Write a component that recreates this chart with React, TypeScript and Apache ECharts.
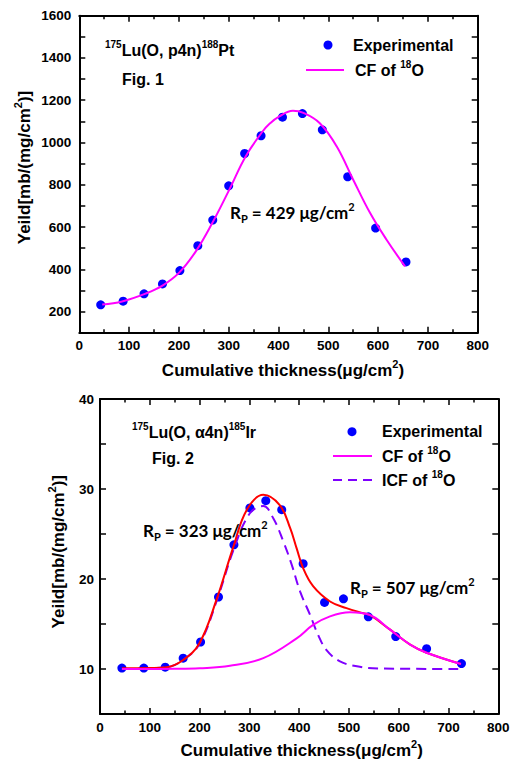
import React, { useEffect, useRef } from "react";
import * as echarts from "echarts";

// ---------- Fig. 1 : 175Lu(O, p4n)188Pt ----------
const fig1Thickness = [43, 88, 130, 167, 202, 238, 268, 300, 332, 365, 408, 448, 488, 539, 595, 656];
const fig1Yield = [232, 249, 284, 331, 394, 512, 633, 795, 948, 1032, 1120, 1137, 1060, 838, 595, 435];
const fig1FitX = [46, 86, 133, 167, 200, 234, 267, 301, 334, 368, 383, 401, 429, 450, 483, 517, 550, 584, 617, 654];
const fig1FitY = [233, 248, 285, 323, 383, 485, 619, 776, 934, 1052, 1091, 1123, 1150, 1140, 1091, 981, 824, 666, 540, 414];

// ---------- Fig. 2 : 175Lu(O, a4n)185Ir ----------
const fig2Thickness = [44, 88, 131, 167, 202, 238, 269, 301, 333, 365, 408, 451, 489, 539, 594, 656, 726];
const fig2Yield = [10.1, 10.1, 10.2, 11.2, 13.0, 18.0, 23.8, 27.9, 28.7, 27.7, 21.7, 17.4, 17.8, 15.8, 13.6, 12.25, 10.6];
const fig2CfX = [44, 150, 200, 261, 328, 395, 428, 462, 502, 542, 582, 623, 656, 725];
const fig2CfY = [10.0, 10.02, 10.08, 10.35, 11.2, 13.4, 14.9, 15.85, 16.3, 16.0, 14.4, 12.7, 11.8, 10.55];
const fig2IcfX = [44, 134, 167, 200, 234, 268, 301, 328, 348, 368, 385, 402, 422, 438, 455, 482, 516, 560, 726];
const fig2IcfY = [10.0, 10.2, 11.0, 12.8, 17.5, 23.2, 27.3, 28.1, 26.75, 24.2, 21.6, 18.6, 16.0, 13.8, 12.1, 10.85, 10.3, 10.05, 10.0];
const fig2SumX = [44, 100, 134, 167, 200, 234, 268, 295, 328, 361, 382, 395, 408, 428, 462, 495, 529, 542, 582, 623, 656, 725];
const fig2SumY = [10.07, 10.1, 10.2, 11.0, 12.9, 17.7, 23.6, 27.7, 29.35, 28.2, 25.65, 23.4, 21.2, 19.2, 17.5, 16.77, 16.2, 16.0, 14.4, 12.7, 11.8, 10.55];

const xTicks = { min: 0, max: 800, interval: 100 };
const y1Ticks = { min: 100, max: 1600, interval: 100, labelStep: 200 };
const y2Ticks = { min: 5, max: 40, interval: 5, labelStep: 10 };

const FONT = '"Liberation Sans", Arial, sans-serif';
const RP_FONT = 'Lato, "Open Sans", sans-serif';
const BLUE = "#0000ff";
const MAGENTA = "#ff00ff";
const RED = "#ff0000";
const PURPLE = "#7f00ff";

const zip = (xs: number[], ys: number[]) => xs.map((x, i) => [x, ys[i]]);

const G1 = { left: 79.3, top: 15.7, width: 398.4, height: 317 };
const G2 = { left: 100, top: 399, width: 398.3, height: 315 };

function xAxisPair(gridIndex: number) {
  const common = {
    gridIndex,
    type: "value",
    min: xTicks.min,
    max: xTicks.max,
    interval: xTicks.interval,
    splitLine: { show: false },
    axisLine: { show: true, onZero: false, lineStyle: { color: "#000", width: 2 } },
    axisTick: { show: true, inside: true, length: 6, lineStyle: { color: "#000", width: 1.5 } },
    minorTick: { show: true, splitNumber: 2, length: 3.5, lineStyle: { color: "#000", width: 1.5 } },
    minorSplitLine: { show: false },
  };
  return [
    {
      ...common,
      position: "bottom",
      axisLabel: {
        show: true,
        margin: 6,
        color: "#000",
        fontFamily: FONT,
        fontWeight: "bold",
        fontSize: 13.5,
        showMinLabel: true,
        showMaxLabel: true,
      },
    },
    { ...common, position: "top", axisLabel: { show: false } },
  ];
}

function yAxisPair(gridIndex: number, t: { min: number; max: number; interval: number; labelStep: number }, margin: number) {
  const common = {
    gridIndex,
    type: "value",
    min: t.min,
    max: t.max,
    interval: t.interval,
    splitLine: { show: false },
    axisLine: { show: true, onZero: false, lineStyle: { color: "#000", width: 2 } },
    axisTick: { show: true, inside: true, length: 6, lineStyle: { color: "#000", width: 1.5 } },
  };
  return [
    {
      ...common,
      position: "left",
      axisLabel: {
        show: true,
        margin,
        color: "#000",
        fontFamily: FONT,
        fontWeight: "bold",
        fontSize: 13.5,
        formatter: (v: number) => (Math.abs(v % t.labelStep) < 1e-9 ? String(v) : ""),
      },
    },
    { ...common, position: "right", axisLabel: { show: false } },
  ];
}

const richBase = (size: number, family = FONT) => ({
  a: { fontFamily: family, fontWeight: "bold", fontSize: size, lineHeight: size + 6, fill: "#000", color: "#000" },
  s: { fontFamily: family, fontWeight: "bold", fontSize: Math.round(size * 0.62), lineHeight: Math.round(size * 0.62), verticalAlign: "top", fill: "#000", color: "#000" },
  d: { fontFamily: family, fontWeight: "bold", fontSize: Math.round(size * 0.62), lineHeight: Math.round(size * 0.62), verticalAlign: "bottom", fill: "#000", color: "#000" },
});

function richText(x: number, y: number, text: string, size: number, opts: any = {}) {
  return {
    type: "text",
    x,
    y,
    rotation: opts.rotation || 0,
    silent: true,
    z: 100,
    style: {
      text,
      rich: richBase(size, opts.family || FONT),
      align: opts.align || "left",
      verticalAlign: "middle",
      fill: "#000",
    },
  };
}

function legendDot(x: number, y: number) {
  return { type: "circle", shape: { cx: x, cy: y, r: 4.5 }, style: { fill: BLUE }, silent: true, z: 100 };
}
function legendLine(x1: number, x2: number, y: number, color: string, dash?: number[]) {
  return {
    type: "line",
    shape: { x1, y1: y, x2, y2: y },
    style: { stroke: color, lineWidth: 2, lineDash: dash || null },
    silent: true,
    z: 100,
  };
}

export default function App() {
  const ref = useRef<HTMLDivElement>(null);
  useEffect(() => {
    if (!ref.current) return;
    const chart = echarts.init(ref.current, null, { renderer: "svg" });
    const lineSeries = (name: string, xi: number, data: number[][], color: string, z: number, dash?: number[]) => ({
      name,
      type: "line",
      xAxisIndex: xi,
      yAxisIndex: xi,
      data,
      smooth: 0.4,
      symbol: "none",
      showSymbol: false,
      z,
      lineStyle: { color, width: 2, type: dash ? dash : "solid" },
      itemStyle: { color },
    });
    const [x0, x1] = xAxisPair(0);
    const [x2, x3] = xAxisPair(1);
    const [y0, y1] = yAxisPair(0, y1Ticks, 8);
    const [y2, y3] = yAxisPair(1, y2Ticks, 6);
    chart.setOption({
      animation: false,
      backgroundColor: "#fff",
      grid: [
        { ...G1, outerBoundsMode: "none", containLabel: false },
        { ...G2, outerBoundsMode: "none", containLabel: false },
      ],
      xAxis: [x0, x1, x2, x3],
      yAxis: [y0, y1, y2, y3],
      series: [
        {
          name: "Experimental",
          type: "scatter",
          xAxisIndex: 0,
          yAxisIndex: 0,
          data: zip(fig1Thickness, fig1Yield),
          symbolSize: 9,
          itemStyle: { color: BLUE, opacity: 1 },
          z: 2,
        },
        lineSeries("CF of 18O", 0, zip(fig1FitX, fig1FitY), MAGENTA, 3),
        {
          name: "Experimental",
          type: "scatter",
          xAxisIndex: 2,
          yAxisIndex: 2,
          data: zip(fig2Thickness, fig2Yield),
          symbolSize: 9,
          itemStyle: { color: BLUE, opacity: 1 },
          z: 2,
        },
        lineSeries("ICF of 18O", 2, zip(fig2IcfX, fig2IcfY), PURPLE, 3, [10, 6]),
        lineSeries("CF + ICF", 2, zip(fig2SumX, fig2SumY), RED, 4),
        lineSeries("CF of 18O (Fig. 2)", 2, zip(fig2CfX, fig2CfY), MAGENTA, 5),
      ],
      graphic: [
        // Fig. 1 annotations
        richText(105, 50, "{s|175}{a|Lu(O, p4n)}{s|188}{a|Pt}", 16),
        richText(122, 79, "{a|Fig. 1}", 16),
        legendDot(328, 45),
        richText(353, 45, "{a|Experimental}", 16),
        legendLine(306, 344, 70, MAGENTA),
        richText(355, 70, "{a|CF of }{s|18}{a|O}", 16),
        richText(230, 212, "{a|R}{d|P}{a| = 429 μg/cm}{s|2}", 17, { family: RP_FONT }),
        richText(283, 370, "{a|Cumulative thickness(μg/cm}{s|2}{a|)}", 17, { align: "center" }),
        richText(24, 167.5, "{a|Yeild[mb/(mg/cm}{s|2}{a|)]}", 17, { align: "center", rotation: Math.PI / 2 }),
        // Fig. 2 annotations
        richText(132, 432.7, "{s|175}{a|Lu(O, α4n)}{s|185}{a|Ir}", 16),
        richText(152, 458, "{a|Fig. 2}", 16),
        legendDot(352, 431.7),
        richText(382, 431.7, "{a|Experimental}", 16),
        legendLine(333, 372, 456, MAGENTA),
        richText(382, 456, "{a|CF of }{s|18}{a|O}", 16),
        legendLine(333, 372, 480, PURPLE, [9, 6]),
        richText(382, 480, "{a|ICF of }{s|18}{a|O}", 16),
        richText(143, 530, "{a|R}{d|P}{a| = 323 μg/cm}{s|2}", 17, { family: RP_FONT }),
        richText(350, 587, "{a|R}{d|P}{a| = 507 μg/cm}{s|2}", 17, { family: RP_FONT }),
        richText(301.7, 750, "{a|Cumulative thickness(μg/cm}{s|2}{a|)}", 17, { align: "center" }),
        richText(58, 551.7, "{a|Yeild[mb/(mg/cm}{s|2}{a|)]}", 17, { align: "center", rotation: Math.PI / 2 }),
      ],
    });
    return () => chart.dispose();
  }, []);
  return (
    <div
      ref={ref}
      style={{ position: "absolute", left: 0, top: 0, width: 510, height: 762, background: "#fff" }}
    />
  );
}
